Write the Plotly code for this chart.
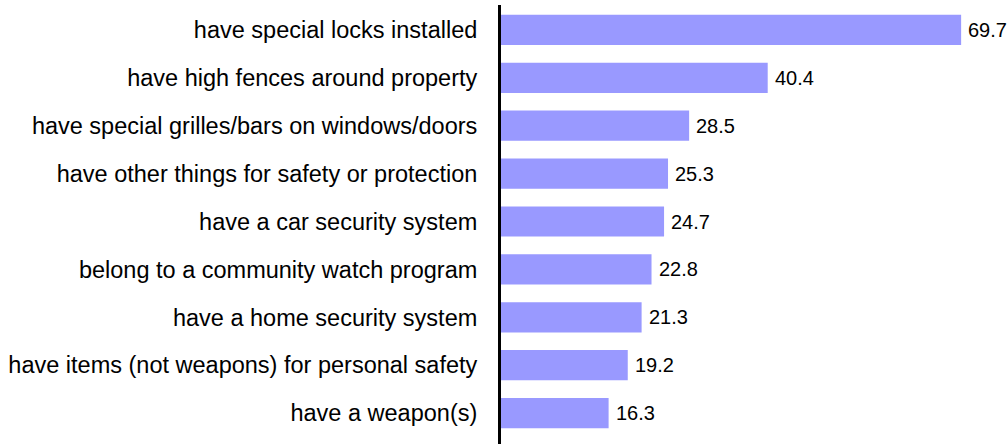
import plotly.graph_objects as go

categories = [
    "have special locks installed",
    "have high fences around property",
    "have special grilles/bars on windows/doors",
    "have other things for safety or protection",
    "have a car security system",
    "belong to a community watch program",
    "have a home security system",
    "have items (not weapons) for personal safety",
    "have a weapon(s)",
]
values = [69.7, 40.4, 28.5, 25.3, 24.7, 22.8, 21.3, 19.2, 16.3]
value_labels = [f"{v:.1f}" for v in values]

FONT = "Liberation Sans, Arial"

fig = go.Figure(
    go.Bar(
        x=values,
        y=categories,
        orientation="h",
        width=0.63,
        marker=dict(color="#9999FF", line=dict(width=0)),
        hoverinfo="x+y",
    )
)

# value labels placed just past the end of each bar
for cat, v, lab in zip(categories, values, value_labels):
    fig.add_annotation(
        x=v,
        y=cat,
        text=lab,
        showarrow=False,
        xanchor="left",
        yanchor="middle",
        xshift=5,
        font=dict(family=FONT, size=20, color="#000000"),
    )

fig.update_layout(
    width=1008,
    height=444,
    margin=dict(l=501, r=0, t=5, b=0),
    paper_bgcolor="white",
    plot_bgcolor="white",
    showlegend=False,
    font=dict(family=FONT, color="#000000"),
    xaxis=dict(
        range=[0, 76.8],
        showgrid=False,
        zeroline=False,
        showticklabels=False,
        showline=False,
        fixedrange=True,
    ),
    yaxis=dict(
        type="category",
        range=[8.645, -0.52],
        showgrid=False,
        zeroline=False,
        showline=True,
        linecolor="#000000",
        linewidth=3,
        ticks="",
        ticklabelstandoff=16,
        tickfont=dict(family=FONT, size=23.5, color="#000000"),
    ),
)

fig.write_html("out.html")
